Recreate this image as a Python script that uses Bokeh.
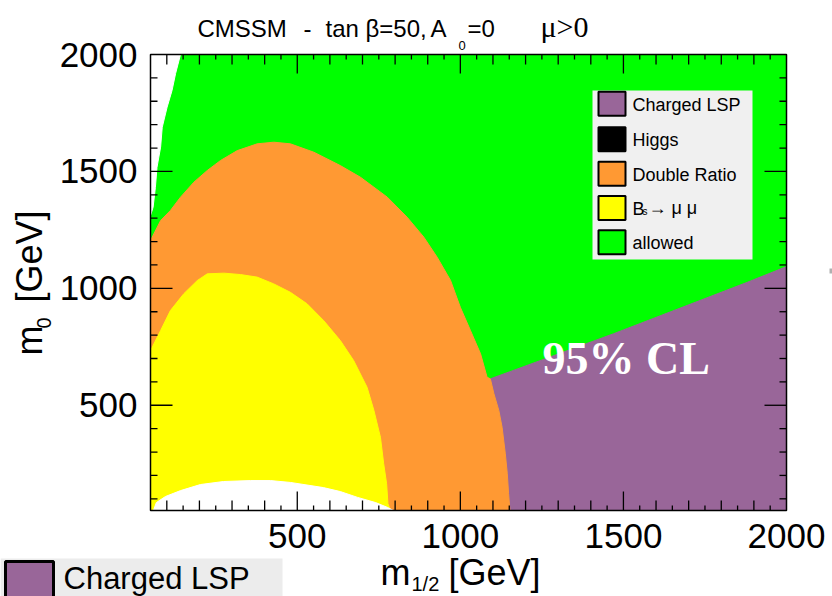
import math
from bokeh.plotting import figure
from bokeh.models import Range1d, Label, BoxAnnotation
from bokeh.core.properties import value
from bokeh.embed import file_html
from bokeh.resources import INLINE

# ---------------- data ----------------
X_RANGE = (50, 2000)
Y_RANGE = (50, 2000)
major_ticks = [500, 1000, 1500, 2000]
major_labels = ["500", "1000", "1500", "2000"]
x_minor_ticks = list(range(100, 2000, 50))
y_minor_ticks = list(range(100, 2000, 100))

# white (unphysical) wedge, top left
white_top_x = [50, 142, 127, 116, 101, 86, 81, 70, 65, 58, 50]
white_top_y = [2000, 2000, 1919, 1846, 1775, 1689, 1604, 1518, 1432, 1347, 1311]

# Charged LSP (purple)
purple_x = [1092, 1470, 1880, 2000, 2000, 1152, 1148, 1144, 1138, 1128, 1118, 1103]
purple_y = [613, 806, 1026, 1093, 50, 50, 121, 207, 292, 406, 478, 549]

# Double Ratio (orange)
orange_x = [50, 50, 81, 111, 142, 183, 224, 265, 316, 377, 428, 479, 551, 632, 694,
            776, 837, 888, 929, 970, 1000, 1031, 1062, 1082, 1092, 1103, 1118, 1128,
            1138, 1144, 1148, 1152]
orange_y = [50, 1205, 1290, 1333, 1390, 1454, 1504, 1547, 1589, 1618, 1625, 1618, 1582,
            1525, 1475, 1390, 1304, 1219, 1133, 1034, 919, 820, 720, 620, 613, 549, 478,
            406, 292, 207, 121, 50]

# Bs -> mu mu (yellow)
yellow_x = [50, 50, 81, 111, 152, 193, 224, 275, 326, 377, 428, 479, 530, 581, 632, 673,
            714, 735, 755, 765, 774, 778, 786]
yellow_y = [50, 734, 820, 905, 977, 1033, 1062, 1065, 1059, 1048, 1019, 983, 934, 862,
            777, 691, 577, 478, 363, 250, 164, 79, 50]

# white (excluded) bump at low m0
white_bot_x = [59, 68, 96, 142, 203, 274, 357, 418, 479, 580, 632, 685, 740, 777, 795]
white_bot_y = [50, 84, 110, 135, 161, 174, 178, 178, 170, 148, 131, 106, 84, 63, 50]

legend_labels = ["Charged LSP", "Higgs", "Double Ratio", "B", "allowed"]

GREEN = "#00ff00"
ORANGE = "#ff9933"
YELLOW = "#ffff00"
PURPLE = "#996699"
legend_colors = [PURPLE, "#000000", ORANGE, YELLOW, GREEN]

SANS = "Liberation Sans"
SERIF = "Liberation Serif"

# ---------------- layout (canvas pixels) ----------------
W, H = 832, 596
PL, PR, PT, PB = 150, 786, 54, 510          # plot-area edges in canvas pixels
XS = (X_RANGE[1] - X_RANGE[0]) / (PR - PL)  # data units per pixel
YS = (Y_RANGE[1] - Y_RANGE[0]) / (PB - PT)


def px2x(px):
    return X_RANGE[0] + (px - PL) * XS


def py2y(py):
    return Y_RANGE[0] + (PB - py) * YS


p = figure(width=W, height=H, x_range=Range1d(px2x(0), px2x(W)),
           y_range=Range1d(py2y(H), py2y(0)), output_backend="svg",
           toolbar_location=None, x_axis_type=None, y_axis_type=None, min_border=0)
p.outline_line_color = None
p.background_fill_color = "white"
p.border_fill_color = "white"
p.grid.visible = False

# ---------------- regions ----------------
p.quad(left=[X_RANGE[0]], right=[X_RANGE[1]], bottom=[Y_RANGE[0]], top=[Y_RANGE[1]],
       fill_color=GREEN, line_color=None)
p.patch(white_top_x, white_top_y, fill_color="white", line_color="white", line_width=1)
p.patch(purple_x, purple_y, fill_color=PURPLE, line_color=PURPLE, line_width=1)
p.patch(orange_x, orange_y, fill_color=ORANGE, line_color=ORANGE, line_width=1)
p.patch(yellow_x, yellow_y, fill_color=YELLOW, line_color=YELLOW, line_width=1)
p.patch(white_bot_x, white_bot_y, fill_color="white", line_color="white", line_width=1)

# ---------------- frame and ticks (ROOT style, inward) ----------------
p.quad(left=[X_RANGE[0]], right=[X_RANGE[1]], bottom=[Y_RANGE[0]], top=[Y_RANGE[1]],
       fill_color=None, line_color="black", line_width=1.5)


def xlen(t):
    return 19 if t % 500 == 0 else (10 if t % 100 == 0 else 5)


def ylen(t):
    return 22 if t % 500 == 0 else 7


xt = sorted(set(x_minor_ticks) | set(major_ticks[:-1]))
yt = sorted(set(y_minor_ticks) | set(major_ticks[:-1]))
# bottom
p.segment(x0=xt, y0=[Y_RANGE[0]] * len(xt), x1=xt,
          y1=[Y_RANGE[0] + xlen(t) * YS for t in xt], line_color="black", line_width=1.3)
# top
p.segment(x0=xt, y0=[Y_RANGE[1]] * len(xt), x1=xt,
          y1=[Y_RANGE[1] - xlen(t) * YS for t in xt], line_color="black", line_width=1.3)
# left
p.segment(x0=[X_RANGE[0]] * len(yt), y0=yt, x1=[X_RANGE[0] + ylen(t) * XS for t in yt],
          y1=yt, line_color="black", line_width=1.3)
# right
p.segment(x0=[X_RANGE[1]] * len(yt), y0=yt, x1=[X_RANGE[1] - ylen(t) * XS for t in yt],
          y1=yt, line_color="black", line_width=1.3)

# tick labels
p.text(x=major_ticks, y=[py2y(535)] * len(major_ticks), text=major_labels,
       text_font=value(SANS), text_font_size="35px", text_align="center",
       text_baseline="middle", text_color="black")
p.text(x=[px2x(137)] * len(major_ticks), y=major_ticks, text=major_labels,
       text_font=value(SANS), text_font_size="35px", text_align="right",
       text_baseline="middle", text_color="black")


# ---------------- texts / annotations (screen units = canvas px, y up) ----------------
def lab(px, py, text, size, font=SANS, angle=0.0, color="black", style="normal",
        align="left"):
    # (px, py): left end / vertical middle of the text, in canvas pixels
    p.add_layout(Label(x=px, y=H - py, x_units="screen", y_units="screen",
                       text=text, text_font=font, text_font_size=f"{size}px",
                       text_color=color, angle=angle, text_font_style=style,
                       text_baseline="middle", text_align=align))


def box(l, r, t, b, fill, line=None, lw=0):
    p.add_layout(BoxAnnotation(left=l, right=r, top=H - t, bottom=H - b,
                               left_units="screen", right_units="screen",
                               top_units="screen", bottom_units="screen",
                               fill_color=fill, fill_alpha=1.0,
                               line_color=line, line_width=lw, line_alpha=1.0))


# title
lab(197, 28, "CMSSM", 24)
lab(303, 28, "-", 24)
lab(325, 28, "tan β=50,", 24)
lab(430, 28, "A", 24)
lab(458, 45, "0", 13)
lab(467, 28, "=0", 24)
lab(540, 26, "μ>0", 30, font=SERIF)

# axis titles
lab(29, 355, "m", 36, angle=math.pi / 2)
lab(43, 328, "0", 20, angle=math.pi / 2)
lab(29, 302, "[GeV]", 36, angle=math.pi / 2)
lab(380, 572, "m", 36)
lab(411, 583, "1/2", 20)
lab(448, 572, "[GeV]", 36)

# 95% CL
lab(542, 358, "95% CL", 46, font=SERIF, style="bold", color="white")

# legend
box(592, 752, 90, 259, "#f0f0f0")
centers = [103.3, 138.8, 173.3, 207.5, 241.7]
for c, col, txt in zip(centers, legend_colors, legend_labels):
    box(598, 625, c - 12, c + 12, col, "black", 2)
    lab(632, c + 1, txt, 18)
lab(642, centers[3] + 3.5, "s", 10)
lab(648, centers[3], "→ μ μ", 18)

# clipped fragment, bottom-left
box(0, 282, 558, 600, "#ececec")
box(5, 53, 561, 605, PURPLE, "black", 3)
lab(63, 578, "Charged LSP", 31)

# small grey mark at right edge
box(829, 833, 268, 273, "#b0b0b0")

open("out.html", "w").write(file_html(p, INLINE))
